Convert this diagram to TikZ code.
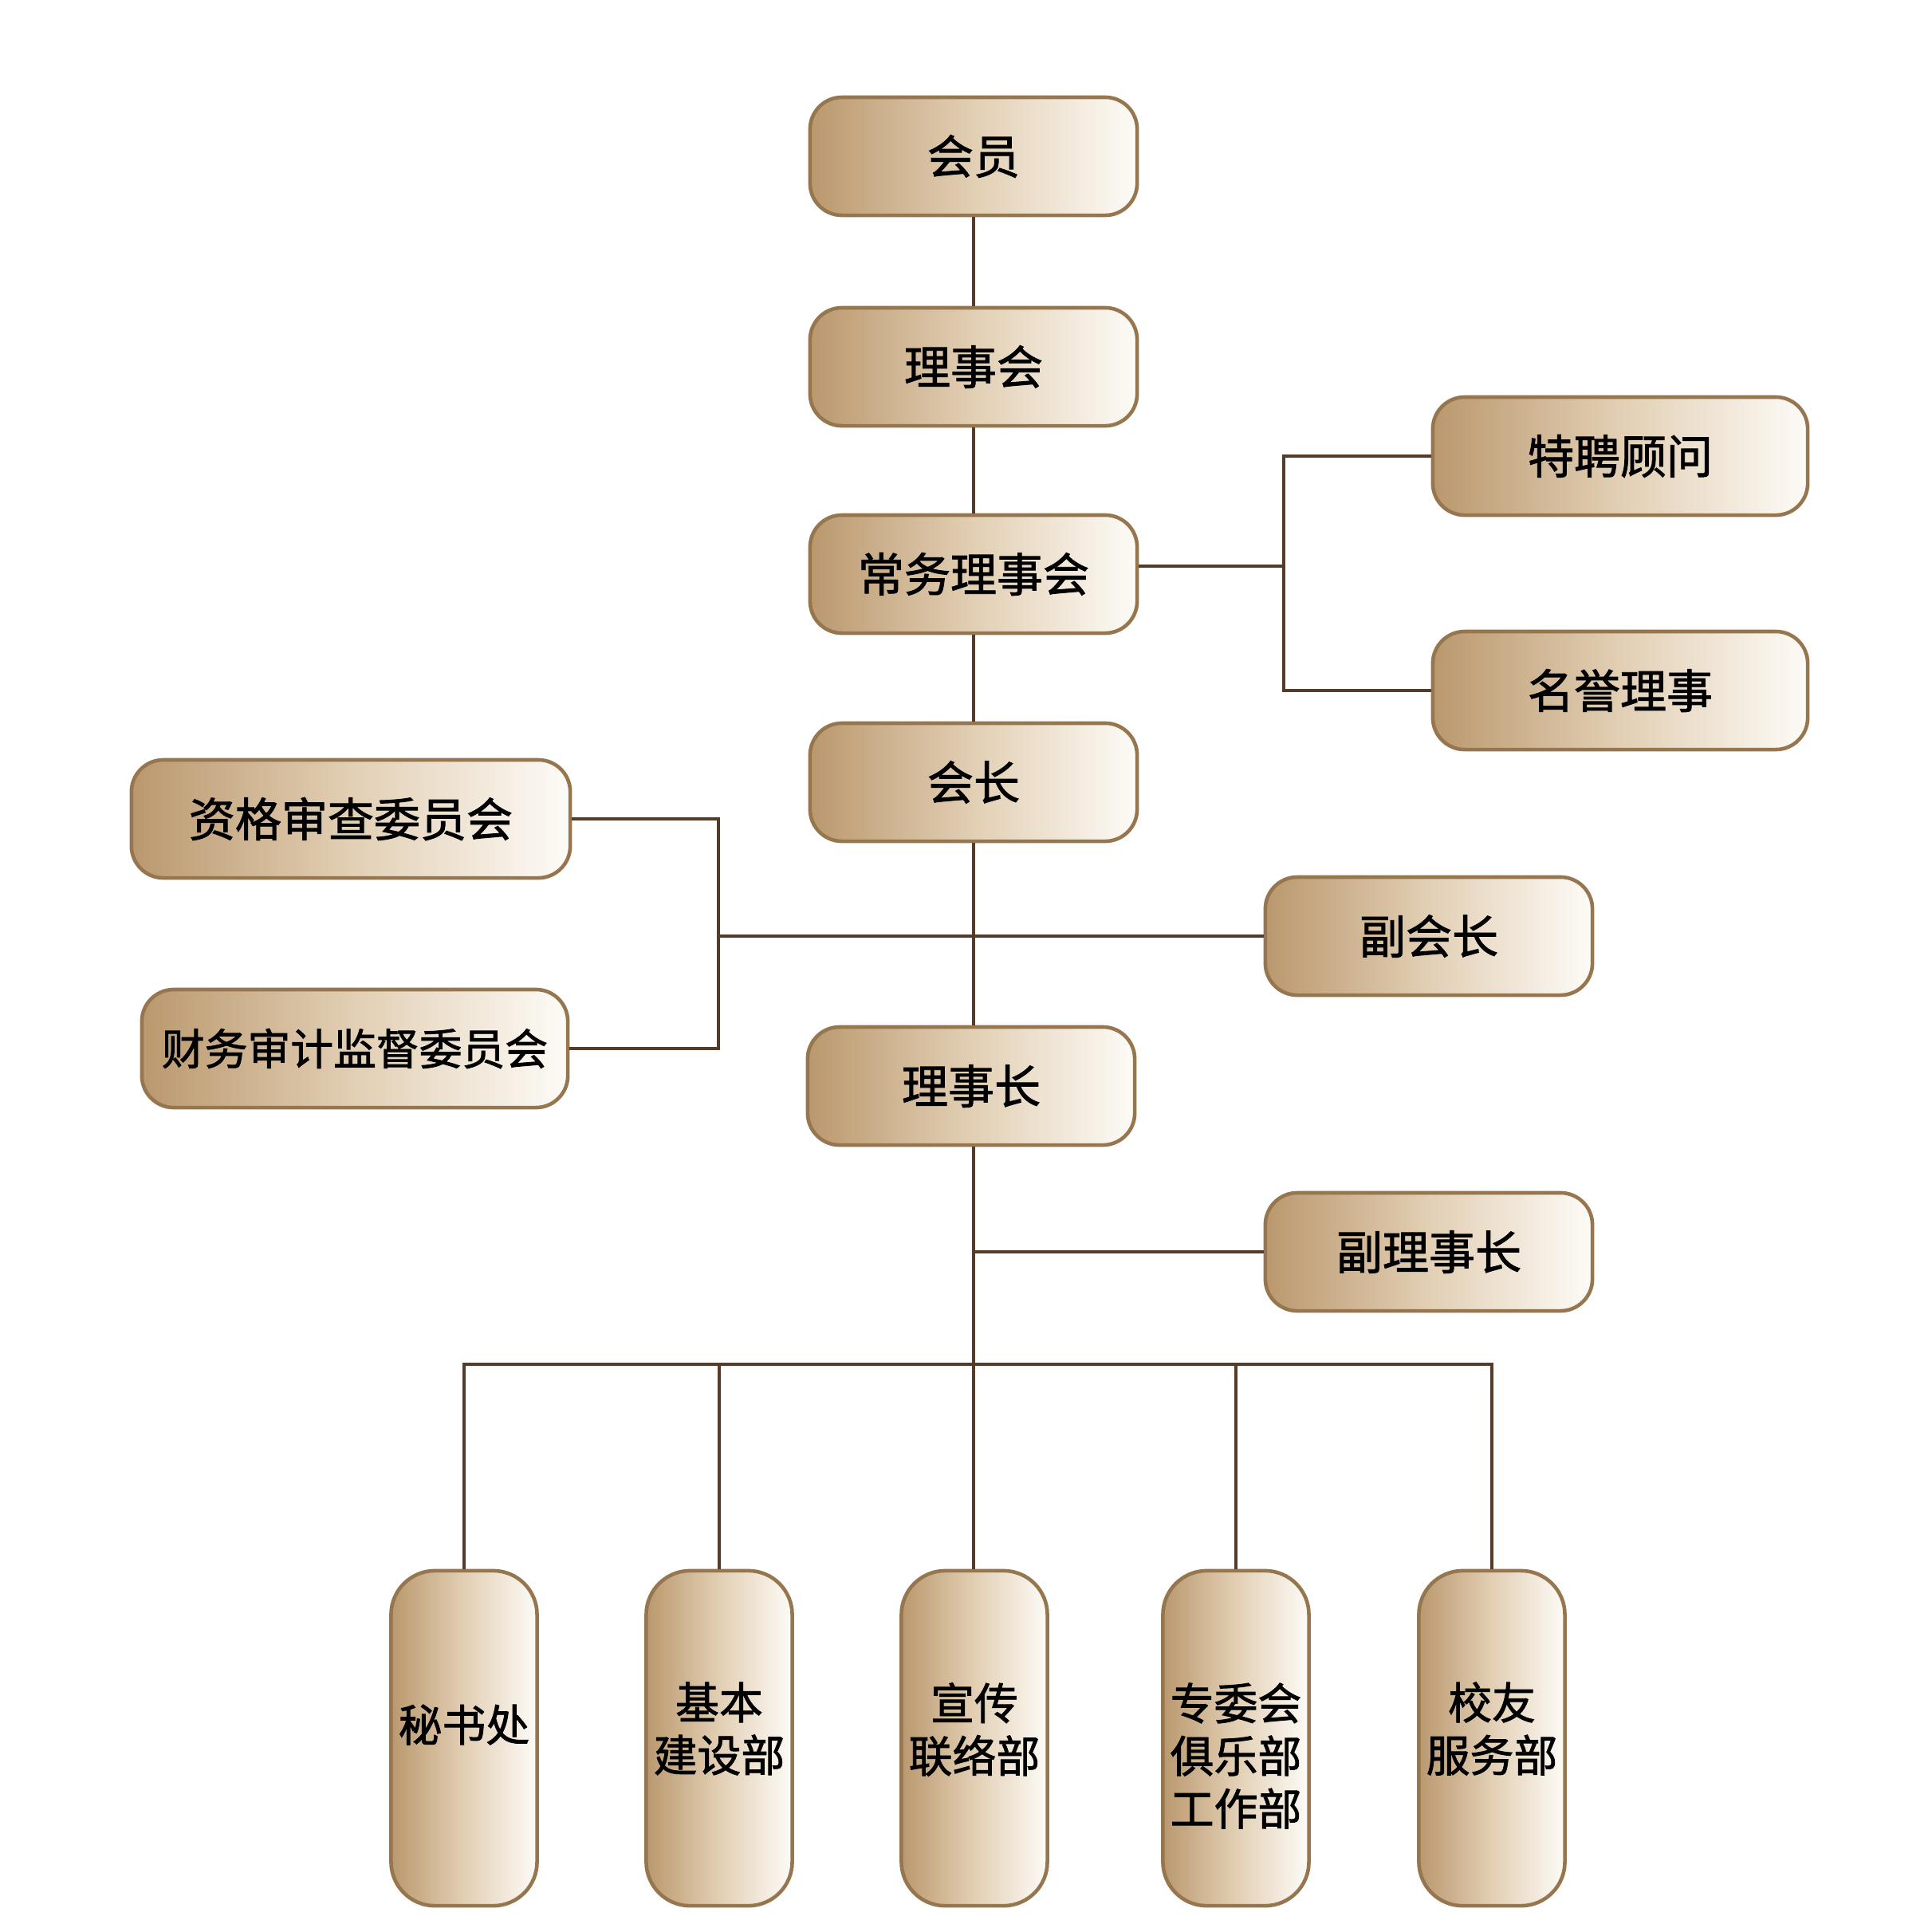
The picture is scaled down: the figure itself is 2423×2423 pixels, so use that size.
\documentclass[tikz,border=0pt]{standalone}
\usepackage{fontspec}
\newfontfamily\cjk{Noto Sans CJK SC}[FakeBold=1.6]
\definecolor{boxL}{RGB}{186,152,110}
\definecolor{boxM}{RGB}{226,207,180}
\definecolor{boxR}{RGB}{253,251,247}
\definecolor{rim}{RGB}{150,118,78}
\definecolor{wire}{RGB}{86,60,38}
\tikzset{
  org/.style={draw=rim, line width=1.3pt, rounded corners=0.4cm,
    left color=boxL, right color=boxR, middle color=boxM, inner sep=0pt,
    font=\cjk\fontsize{16.5}{18}\selectfont, text=black},
  tall/.style={org, rounded corners=0.55cm, minimum width=1.83cm, minimum height=4.2cm},
  talltext/.style={align=center, inner sep=0pt, text=black,
    font=\cjk\fontsize{15.6}{18.8}\selectfont},
  link/.style={draw=wire, line width=0.9pt},
}
\begin{document}
\begin{tikzpicture}[x=0.01cm,y=-0.01cm]
\useasboundingbox (0,0) rectangle (2423,2423);
\fill[white] (0,0) rectangle (2423,2423);
% central column
\node[org, minimum width=4.1cm, minimum height=1.48cm] (hy) at (1221,196) {会员};
\node[org, minimum width=4.1cm, minimum height=1.48cm] (lsh) at (1221,460) {理事会};
\node[org, minimum width=4.1cm, minimum height=1.48cm] (cw) at (1221,720) {常务理事会};
\node[org, minimum width=4.1cm, minimum height=1.48cm] (hz) at (1221,981) {会长};
\node[org, minimum width=4.1cm, minimum height=1.48cm] (lsz) at (1218,1362) {理事长};
% right of 常务理事会
\node[org, minimum width=4.7cm, minimum height=1.48cm] (tp) at (2032,572) {特聘顾问};
\node[org, minimum width=4.7cm, minimum height=1.48cm] (my) at (2032,866) {名誉理事};
% 副会长 / 副理事长
\node[org, minimum width=4.1cm, minimum height=1.48cm] (fhz) at (1792,1174) {副会长};
\node[org, minimum width=4.1cm, minimum height=1.48cm] (flz) at (1792,1570) {副理事长};
% left committees
\node[org, minimum width=5.5cm, minimum height=1.48cm] (zg) at (440,1027) {资格审查委员会};
\node[org, minimum width=5.34cm, minimum height=1.48cm,
  font=\cjk\fontsize{15.3}{17}\selectfont] (cwsj) at (445,1315) {财务审计监督委员会};
% bottom departments
\node[tall] (ms) at (582,2180) {};
\node[tall] (jb) at (902,2180) {};
\node[tall] (xc) at (1222,2180) {};
\node[tall] (zw) at (1550,2180) {};
\node[tall] (xy) at (1871,2180) {};
\node[talltext] (mst) at (582,2163) {秘书处};
\node[talltext] (jbt) at (902,2168) {基本\\建设部};
\node[talltext] (xct) at (1222,2169) {宣传\\联络部};
\node[talltext] (zwt) at (1550,2202) {专委会\\俱乐部\\工作部};
\node[talltext] (xyt) at (1871,2168) {校友\\服务部};
% helper coordinates
\coordinate (rb) at (1610,710);
\coordinate (lb) at (901,1174);
\coordinate (bus) at (1221,1711);
% connectors
\draw[link] (hy.south) -- (lsh.north);
\draw[link] (lsh.south) -- (cw.north);
\draw[link] (cw.south) -- (hz.north);
\draw[link] (hz.south) -- (hz.south |- lsz.north);
\draw[link] (lsz.south -| hz.south) -- (hz.south |- xc.north);
\draw[link] (cw.east |- rb) -- (rb);
\draw[link] (tp.west) -| (rb) |- (my.west);
\draw[link] (zg.east) -| (lb) |- (cwsj.east);
\draw[link] (lb) -- (fhz.west);
\draw[link] (hz.south |- flz.west) -- (flz.west);
\draw[link] (ms.north) |- (bus) -| (xy.north);
\draw[link] (jb.north) -- (jb.north |- bus);
\draw[link] (zw.north) -- (zw.north |- bus);
\end{tikzpicture}
\end{document}
